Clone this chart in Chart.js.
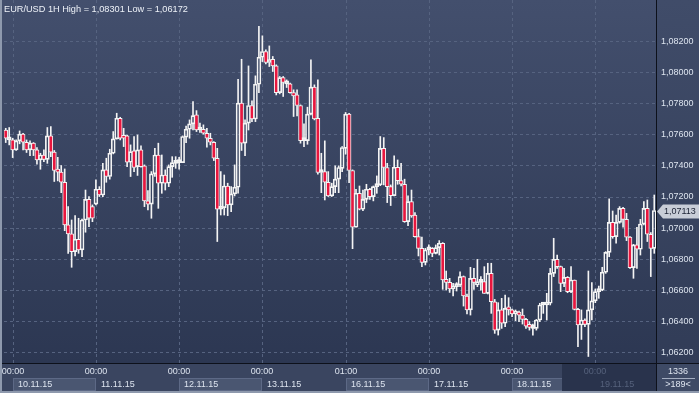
<!DOCTYPE html>
<html>
<head>
<meta charset="utf-8">
<title>EUR/USD 1H</title>
<script src="https://cdn.jsdelivr.net/npm/chart.js@4.4.1/dist/chart.umd.min.js"></script>
<style>
   html, body { margin: 0; padding: 0; background: #3a4560; }
   #wrap { width: 699px; height: 393px; position: relative; }
</style>
</head>
<body>
<div id="wrap"><canvas id="myChart" width="699" height="393"></canvas></div>
<script>
"use strict";

const title = "EUR/USD 1H High = 1,08301 Low = 1,06172";

const opens = [
   1.07632, 1.07568, 1.07568, 1.07504, 1.07562, 1.07605, 1.07553, 1.07504, 1.07547, 1.07504,
   1.07439, 1.07471, 1.07443, 1.07594, 1.07489, 1.07371, 1.07360, 1.07295, 1.07020, 1.06962,
   1.06848, 1.06928, 1.06859, 1.07052, 1.07185, 1.07138, 1.07154, 1.07250, 1.07213, 1.07375,
   1.07332, 1.07482, 1.07575, 1.07708, 1.07594, 1.07594, 1.07424, 1.07497, 1.07396, 1.07504,
   1.07401, 1.07175, 1.07154, 1.07349, 1.07471, 1.07289, 1.07342, 1.07289, 1.07396, 1.07417,
   1.07422, 1.07422, 1.07586, 1.07637, 1.07671, 1.07729, 1.07632, 1.07637, 1.07611, 1.07579,
   1.07553, 1.07450, 1.07121, 1.07132, 1.07271, 1.07149, 1.07220, 1.07263, 1.07805, 1.07547,
   1.07676, 1.07790, 1.07703, 1.07927, 1.08101, 1.08138, 1.08067, 1.08088, 1.08045, 1.07873,
   1.07970, 1.07929, 1.07929, 1.07873, 1.07858, 1.07790, 1.07564, 1.07564, 1.07734, 1.07908,
   1.07708, 1.07358, 1.07364, 1.07295, 1.07207, 1.07267, 1.07315, 1.07385, 1.07514, 1.07734,
   1.07371, 1.07005, 1.07224, 1.07121, 1.07185, 1.07250, 1.07203, 1.07267, 1.07278, 1.07514,
   1.07390, 1.07267, 1.07209, 1.07392, 1.07306, 1.07282, 1.07041, 1.07170, 1.07084, 1.06945,
   1.06869, 1.06779, 1.06859, 1.06869, 1.06837, 1.06874, 1.06902, 1.06665, 1.06650, 1.06607,
   1.06622, 1.06633, 1.06687, 1.06562, 1.06472, 1.06676, 1.06633, 1.06650, 1.06655, 1.06579,
   1.06708, 1.06525, 1.06342, 1.06472, 1.06386, 1.06482, 1.06472, 1.06446, 1.06457, 1.06439,
   1.06411, 1.06368, 1.06353, 1.06353, 1.06407, 1.06504, 1.06504, 1.06515, 1.06708, 1.06798,
   1.06751, 1.06643, 1.06682, 1.06590, 1.06665, 1.06476, 1.06375, 1.06407, 1.06379, 1.06472,
   1.06530, 1.06590, 1.06600, 1.06715, 1.06843, 1.07037, 1.06945, 1.07037, 1.07127, 1.07056,
   1.06941, 1.06745, 1.06891, 1.06863, 1.07026, 1.07127, 1.06960, 1.06869
];
const highs = [
   1.07643, 1.07648, 1.07579, 1.07568, 1.07626, 1.07611, 1.07568, 1.07562, 1.07551, 1.07519,
   1.07482, 1.07504, 1.07648, 1.07654, 1.07500, 1.07456, 1.07403, 1.07381, 1.07138, 1.07052,
   1.07080, 1.07063, 1.07058, 1.07245, 1.07203, 1.07149, 1.07310, 1.07267, 1.07417, 1.07450,
   1.07508, 1.07622, 1.07740, 1.07714, 1.07643, 1.07600, 1.07536, 1.07590, 1.07600, 1.07530,
   1.07407, 1.07241, 1.07364, 1.07514, 1.07547, 1.07471, 1.07375, 1.07407, 1.07460, 1.07460,
   1.07456, 1.07594, 1.07658, 1.07697, 1.07815, 1.07757, 1.07676, 1.07665, 1.07643, 1.07611,
   1.07557, 1.07514, 1.07364, 1.07342, 1.07289, 1.07267, 1.07407, 1.07959, 1.08088, 1.07697,
   1.08045, 1.07820, 1.07981, 1.08301, 1.08239, 1.08149, 1.08174, 1.08106, 1.08052, 1.07977,
   1.07977, 1.07955, 1.07934, 1.07891, 1.07891, 1.07794, 1.07671, 1.07779, 1.08084, 1.07923,
   1.07955, 1.07482, 1.07562, 1.07364, 1.07289, 1.07401, 1.07401, 1.07525, 1.07745, 1.07740,
   1.07375, 1.07250, 1.07271, 1.07245, 1.07282, 1.07256, 1.07271, 1.07336, 1.07590, 1.07583,
   1.07417, 1.07278, 1.07465, 1.07439, 1.07417, 1.07315, 1.07207, 1.07245, 1.07099, 1.06992,
   1.06941, 1.06869, 1.06891, 1.06874, 1.06891, 1.06919, 1.06906, 1.06723, 1.06676, 1.06643,
   1.06648, 1.06717, 1.06691, 1.06575, 1.06747, 1.06740, 1.06798, 1.06687, 1.06751, 1.06773,
   1.06773, 1.06540, 1.06519, 1.06547, 1.06568, 1.06551, 1.06478, 1.06472, 1.06465, 1.06478,
   1.06418, 1.06397, 1.06381, 1.06411, 1.06515, 1.06519, 1.06579, 1.06740, 1.06934, 1.06826,
   1.06755, 1.06740, 1.06687, 1.06751, 1.06665, 1.06482, 1.06472, 1.06414, 1.06723, 1.06648,
   1.06607, 1.06626, 1.06747, 1.06848, 1.07188, 1.07110, 1.07084, 1.07138, 1.07134, 1.07095,
   1.06945, 1.06895, 1.07005, 1.07056, 1.07170, 1.07181, 1.06971, 1.07213
];
const lows = [
   1.07551, 1.07536, 1.07454, 1.07500, 1.07543, 1.07504, 1.07487, 1.07467, 1.07467, 1.07411,
   1.07379, 1.07428, 1.07417, 1.07460, 1.07300, 1.07304, 1.07228, 1.06983, 1.06837, 1.06747,
   1.06820, 1.06837, 1.06815, 1.06973, 1.07009, 1.07041, 1.07149, 1.07203, 1.07203, 1.07295,
   1.07315, 1.07478, 1.07573, 1.07568, 1.07525, 1.07396, 1.07332, 1.07364, 1.07339, 1.07392,
   1.07138, 1.07117, 1.07063, 1.07332, 1.07127, 1.07224, 1.07245, 1.07267, 1.07327, 1.07385,
   1.07379, 1.07422, 1.07551, 1.07579, 1.07632, 1.07622, 1.07617, 1.07605, 1.07521, 1.07536,
   1.07435, 1.06913, 1.07084, 1.07084, 1.07080, 1.07106, 1.07207, 1.07224, 1.07500, 1.07467,
   1.07632, 1.07686, 1.07686, 1.07873, 1.08073, 1.08058, 1.08041, 1.08009, 1.07858, 1.07865,
   1.07848, 1.07906, 1.07869, 1.07719, 1.07723, 1.07547, 1.07525, 1.07540, 1.07729, 1.07697,
   1.07347, 1.07228, 1.07181, 1.07203, 1.07203, 1.07228, 1.07228, 1.07364, 1.07476, 1.07293,
   1.06867, 1.07005, 1.07117, 1.07112, 1.07164, 1.07185, 1.07175, 1.07224, 1.07273, 1.07278,
   1.07164, 1.07145, 1.07207, 1.07282, 1.07271, 1.07037, 1.07015, 1.07069, 1.06941, 1.06820,
   1.06751, 1.06762, 1.06826, 1.06815, 1.06833, 1.06826, 1.06605, 1.06600, 1.06585, 1.06562,
   1.06594, 1.06622, 1.06497, 1.06446, 1.06439, 1.06605, 1.06622, 1.06600, 1.06579, 1.06575,
   1.06450, 1.06321, 1.06310, 1.06353, 1.06364, 1.06439, 1.06429, 1.06403, 1.06397, 1.06381,
   1.06353, 1.06342, 1.06310, 1.06342, 1.06397, 1.06450, 1.06407, 1.06504, 1.06687, 1.06740,
   1.06590, 1.06622, 1.06583, 1.06583, 1.06472, 1.06235, 1.06282, 1.06364, 1.06172, 1.06407,
   1.06519, 1.06547, 1.06596, 1.06708, 1.06815, 1.06934, 1.06902, 1.07031, 1.07005, 1.06919,
   1.06740, 1.06676, 1.06740, 1.06826, 1.07020, 1.06913, 1.06687, 1.06837
];
const closes = [
   1.07579, 1.07579, 1.07504, 1.07562, 1.07605, 1.07553, 1.07504, 1.07547, 1.07504, 1.07439,
   1.07471, 1.07443, 1.07594, 1.07489, 1.07371, 1.07360, 1.07295, 1.07020, 1.06962, 1.06848,
   1.06928, 1.06859, 1.07052, 1.07185, 1.07063, 1.07063, 1.07250, 1.07213, 1.07375, 1.07332,
   1.07482, 1.07575, 1.07708, 1.07579, 1.07579, 1.07424, 1.07493, 1.07390, 1.07504, 1.07396,
   1.07175, 1.07154, 1.07349, 1.07471, 1.07289, 1.07342, 1.07289, 1.07396, 1.07422, 1.07428,
   1.07428, 1.07590, 1.07637, 1.07671, 1.07725, 1.07632, 1.07637, 1.07611, 1.07579, 1.07553,
   1.07450, 1.07121, 1.07132, 1.07271, 1.07149, 1.07220, 1.07263, 1.07805, 1.07547, 1.07676,
   1.07790, 1.07703, 1.07927, 1.08101, 1.08138, 1.08067, 1.08084, 1.08045, 1.07873, 1.07970,
   1.07938, 1.07940, 1.07873, 1.07852, 1.07790, 1.07564, 1.07568, 1.07734, 1.07908, 1.07703,
   1.07358, 1.07364, 1.07295, 1.07207, 1.07267, 1.07315, 1.07390, 1.07519, 1.07734, 1.07371,
   1.07005, 1.07224, 1.07121, 1.07185, 1.07250, 1.07203, 1.07267, 1.07278, 1.07514, 1.07390,
   1.07267, 1.07209, 1.07392, 1.07306, 1.07282, 1.07041, 1.07170, 1.07078, 1.06945, 1.06869,
   1.06779, 1.06859, 1.06869, 1.06837, 1.06874, 1.06902, 1.06665, 1.06650, 1.06607, 1.06622,
   1.06633, 1.06687, 1.06562, 1.06472, 1.06676, 1.06650, 1.06655, 1.06655, 1.06579, 1.06708,
   1.06525, 1.06342, 1.06472, 1.06386, 1.06482, 1.06472, 1.06446, 1.06461, 1.06439, 1.06411,
   1.06368, 1.06360, 1.06364, 1.06407, 1.06504, 1.06508, 1.06515, 1.06708, 1.06798, 1.06751,
   1.06643, 1.06682, 1.06590, 1.06665, 1.06476, 1.06375, 1.06407, 1.06379, 1.06472, 1.06530,
   1.06590, 1.06600, 1.06715, 1.06843, 1.07037, 1.06945, 1.07037, 1.07127, 1.07056, 1.06941,
   1.06745, 1.06891, 1.06863, 1.07026, 1.07127, 1.06960, 1.06869, 1.07113
];

// bottom axis: candle index where each day starts, its time and date
const tickIndex = [2, 26, 50, 74, 98, 122, 146, 170];
const tickTime = ["00:00", "00:00", "00:00", "00:00", "01:00", "00:00", "00:00", "00:00"];
const tickDate = ["10.11.15", "11.11.15", "12.11.15", "13.11.15", "16.11.15", "17.11.15", "18.11.15", "19.11.15"];

// right axis
const priceTicks = [1.062, 1.064, 1.066, 1.068, 1.070, 1.072, 1.074, 1.076, 1.078, 1.080, 1.082];
const priceMin = 1.0613;
const priceMax = 1.0847;

const barCount = "1336";
const barsVisible = ">189<";

const FONT = "'Liberation Sans', Arial, sans-serif";
const RED = "#e8163e";
const WHITE = "#f4f4f4";

function fmt(v) {
   return v.toFixed(5).replace(".", ",");
}

const labels = opens.map((o, i) => String(i));
const bodies = opens.map((o, i) => [o, closes[i]]);
const upperWicks = opens.map((o, i) => [Math.max(o, closes[i]), highs[i]]);
const lowerWicks = opens.map((o, i) => [lows[i], Math.min(o, closes[i])]);

const decor = {
   id: "decor",
   beforeDraw(chart) {
      const c = chart.ctx;
      const a = chart.chartArea;
      const W = chart.width;
      c.save();
      c.fillStyle = "#3a4560";
      c.fillRect(0, 0, W, chart.height);

      let g = c.createLinearGradient(0, 0, 0, a.bottom);
      g.addColorStop(0, "#434f6d");
      g.addColorStop(1, "#2c3752");
      c.fillStyle = g;
      c.fillRect(0, 0, a.right, a.bottom);

      g = c.createLinearGradient(0, 0, 0, a.bottom);
      g.addColorStop(0, "#404c69");
      g.addColorStop(1, "#313c57");
      c.fillStyle = g;
      c.fillRect(a.right, 0, W - a.right, a.bottom);

      // bottom panel
      c.fillStyle = "#3a4560";
      c.fillRect(0, a.bottom, W, 30);
      c.fillStyle = "#3e4a65";
      c.fillRect(a.right, a.bottom, W - a.right, 30);
      c.restore();
   },
   beforeDatasetsDraw(chart) {
      const c = chart.ctx;
      const a = chart.chartArea;
      const x = chart.scales.x;
      c.save();
      c.strokeStyle = "#566380";
      c.lineWidth = 1;
      c.setLineDash([3, 3]);
      tickIndex.forEach((idx) => {
         const px = Math.round(x.getPixelForValue(idx)) + 0.5;
         c.beginPath();
         c.moveTo(px, a.top);
         c.lineTo(px, a.bottom);
         c.stroke();
      });
      c.restore();
   },
   afterDraw(chart) {
      const c = chart.ctx;
      const a = chart.chartArea;
      const x = chart.scales.x;
      const y = chart.scales.y;
      const W = chart.width;
      const H = chart.height;
      c.save();

      // day boxes on the bottom axis
      const px = tickIndex.map((idx) => Math.round(x.getPixelForValue(idx)));
      px.forEach((p, i) => {
         if (i % 2 === 0) {
            const right = i + 1 < px.length ? px[i + 1] : a.right;
            c.fillStyle = "#4a5671";
            c.fillRect(p, 378, right - p, 13);
            c.strokeStyle = "#5d6986";
            c.strokeRect(p + 0.5, 378.5, right - p - 1, 12);
         }
      });

      // shaded end of the time bar
      c.fillStyle = "#29334c";
      c.fillRect(562, a.bottom + 1, a.right - 562, H - a.bottom - 3);

      c.font = "9px " + FONT;
      c.textBaseline = "middle";
      px.forEach((p, i) => {
         c.fillStyle = p > 562 ? "#56627c" : "#dde4ef";
         c.textAlign = "center";
         c.fillText(tickTime[i], p, 371.5);
         c.textAlign = "left";
         c.fillText(tickDate[i], p + 5, 384.5);
      });

      // separators
      c.fillStyle = "#0d111b";
      c.fillRect(0, a.bottom, W, 1);
      c.fillRect(a.right, 0, 1, H - 2);

      // frame
      c.fillStyle = "#8e99ad";
      c.fillRect(0, 0, 2, H);
      c.fillRect(0, H - 2, W, 2);

      // corner counters
      c.fillStyle = "#dde4ef";
      c.textAlign = "center";
      c.fillText(barCount, 678, 371.5);
      c.fillText(barsVisible, 678, 384.5);
      c.fillStyle = "#a3adc0";
      c.fillRect(662, 378, 33, 1);

      // last price tag
      const last = closes[closes.length - 1];
      const ty = Math.round(y.getPixelForValue(last)) + 0.5;
      c.beginPath();
      c.moveTo(a.right + 1, ty);
      c.lineTo(a.right + 7, ty - 7);
      c.lineTo(W, ty - 7);
      c.lineTo(W, ty + 7);
      c.lineTo(a.right + 7, ty + 7);
      c.closePath();
      c.fillStyle = "#c8cdd7";
      c.fill();
      c.fillStyle = "#1b2133";
      c.textAlign = "left";
      c.fillText(fmt(last), a.right + 8, ty + 0.5);

      // title
      c.font = "9.2px " + FONT;
      c.fillStyle = "#eef2f8";
      c.fillText(title, 4, 9);
      c.restore();
   },
};

const ctx = document.getElementById("myChart").getContext("2d");
const myChart = new Chart(ctx, {
   type: "bar",
   data: {
      labels: labels,
      datasets: [
         {
            label: "bodies",
            data: bodies,
            backgroundColor: (cx) => (closes[cx.dataIndex] < opens[cx.dataIndex] ? RED : "rgba(0,0,0,0)"),
            borderColor: WHITE,
            borderWidth: 1,
            borderSkipped: false,
            barThickness: 4,
            minBarLength: 3,
            grouped: false,
            order: 0,
         },
         {
            label: "upper",
            data: upperWicks,
            backgroundColor: WHITE,
            borderWidth: 0,
            barThickness: 1,
            grouped: false,
            order: 1,
         },
         {
            label: "lower",
            data: lowerWicks,
            backgroundColor: WHITE,
            borderWidth: 0,
            barThickness: 1,
            grouped: false,
            order: 1,
         },
      ],
   },
   options: {
      responsive: false,
      animation: false,
      events: [],
      layout: { padding: { left: 4, right: 0, top: 0, bottom: 30 } },
      plugins: {
         legend: { display: false },
         tooltip: { enabled: false },
         title: { display: false },
      },
      scales: {
         x: {
            type: "category",
            display: false,
            offset: true,
         },
         y: {
            position: "right",
            min: priceMin,
            max: priceMax,
            afterBuildTicks(scale) {
               scale.ticks = priceTicks.map((v) => ({ value: v }));
            },
            afterFit(scale) {
               scale.width = 43;
               scale.paddingTop = 0;
               scale.paddingBottom = 0;
            },
            grid: {
               color: "#566380",
               drawTicks: false,
            },
            border: { display: false, dash: [3, 3] },
            ticks: {
               padding: 5,
               color: "#dde4ef",
               font: { family: FONT, size: 9 },
               callback: (v) => fmt(v),
            },
         },
      },
   },
   plugins: [decor],
});
</script>
</body>
</html>
